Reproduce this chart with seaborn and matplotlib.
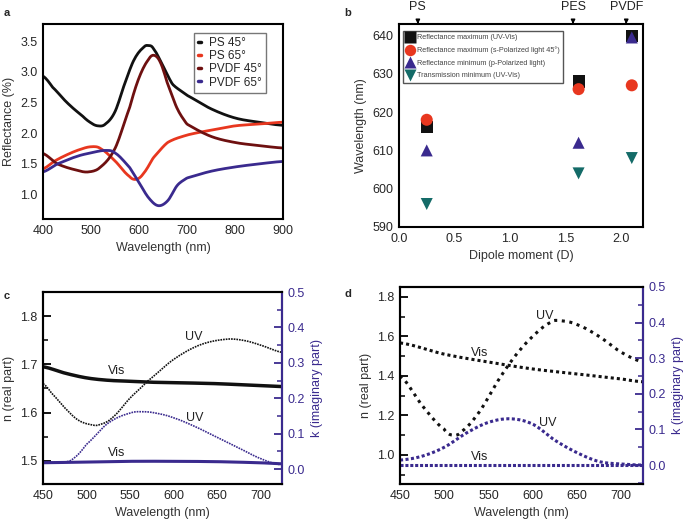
import numpy as np
import pandas as pd
import matplotlib
matplotlib.use('Agg')
import matplotlib.pyplot as plt
from matplotlib.ticker import MultipleLocator
import seaborn as sns

sns.set_theme(style='white')
plt.rcParams['font.family'] = ['Liberation Sans', 'DejaVu Sans']

# ---- panel a: reflectance spectra ----
wl_a = [400, 420, 450, 480, 500, 515, 530, 550, 570, 590, 610, 620, 630, 650, 670, 700, 750, 800, 850, 900]
ps45 = [2.93, 2.75, 2.5, 2.3, 2.17, 2.12, 2.15, 2.35, 2.8, 3.2, 3.4, 3.43, 3.38, 3.1, 2.8, 2.62, 2.4, 2.25, 2.18, 2.13]
wl_a2 = [400, 425, 450, 475, 500, 520, 550, 580, 595, 610, 630, 660, 700, 750, 800, 850, 900]
ps65 = [1.42, 1.55, 1.65, 1.73, 1.78, 1.75, 1.55, 1.3, 1.25, 1.35, 1.6, 1.85, 1.97, 2.05, 2.12, 2.15, 2.18]
wl_a3 = [400, 430, 470, 495, 520, 550, 580, 600, 620, 632, 645, 660, 680, 700, 750, 800, 850, 900]
pvdf45 = [1.67, 1.5, 1.4, 1.37, 1.45, 1.75, 2.4, 2.9, 3.2, 3.27, 3.15, 2.8, 2.4, 2.15, 1.95, 1.85, 1.8, 1.76]
wl_a4 = [400, 430, 470, 500, 530, 550, 580, 600, 620, 640, 660, 680, 700, 750, 800, 850, 900]
pvdf65 = [1.37, 1.5, 1.62, 1.68, 1.72, 1.68, 1.45, 1.2, 0.95, 0.82, 0.9, 1.15, 1.27, 1.38, 1.45, 1.5, 1.54]

# ---- panel b: peak positions vs dipole moment ----
dipole = [0.25, 1.62, 2.1]
polymers = ['PS', 'PES', 'PVDF']
polymer_arrow_x = [0.17, 1.57, 2.05]
refl_max_uvvis = [616, 628, 640]
refl_max_s45 = [618, 626, 627]
refl_min_p = [610, 612, 639.5]
trans_min_uvvis = [596, 604, 608]

# ---- panel c: optical constants (solid film) ----
wl_c = [450, 460, 475, 490, 505, 515, 530, 550, 570, 600, 630, 660, 680, 700, 725]
n_uv_c = [1.66, 1.64, 1.61, 1.585, 1.575, 1.575, 1.59, 1.63, 1.665, 1.71, 1.74, 1.752, 1.75, 1.74, 1.725]
wl_c2 = [450, 475, 500, 525, 550, 575, 600, 650, 700, 725]
n_vis_c = [1.695, 1.682, 1.672, 1.667, 1.665, 1.663, 1.662, 1.66, 1.656, 1.654]
wl_c3 = [450, 475, 485, 500, 525, 550, 565, 580, 600, 625, 650, 675, 700, 722]
k_uv_c = [0.02, 0.02, 0.03, 0.07, 0.13, 0.158, 0.162, 0.158, 0.145, 0.12, 0.09, 0.06, 0.03, 0.013]
wl_c4 = [450, 500, 550, 600, 650, 700, 725]
k_vis_c = [0.018, 0.02, 0.022, 0.022, 0.021, 0.018, 0.015]

# ---- panel d: optical constants (dotted) ----
wl_d = [450, 475, 500, 510, 520, 540, 560, 580, 600, 620, 630, 650, 675, 700, 725]
n_uv_d = [1.40, 1.25, 1.13, 1.10, 1.12, 1.22, 1.37, 1.5, 1.6, 1.67, 1.68, 1.66, 1.6, 1.52, 1.47]
wl_d2 = [450, 500, 550, 600, 650, 700, 725]
n_vis_d = [1.567, 1.51, 1.47, 1.435, 1.41, 1.385, 1.37]
wl_d3 = [450, 475, 500, 525, 550, 575, 600, 625, 650, 675, 700, 725]
k_uv_d = [0.014, 0.025, 0.05, 0.09, 0.12, 0.13, 0.115, 0.07, 0.035, 0.01, 0.003, 0.0]
wl_d4 = [450, 550, 650, 725]
k_vis_d = [0.0, 0.0, 0.0, 0.0]

BLACK = '#111111'
RED = '#e8371f'
DARKRED = '#6e1010'
PURPLE = '#3a2a8e'
TEAL = '#146b68'


def smooth(x, y, n=200):
    # Catmull-Rom through the read points so the curves are not jagged
    x = np.asarray(x, float)
    y = np.asarray(y, float)
    xs = np.linspace(x[0], x[-1], n)
    ys = []
    for xv in xs:
        i = np.clip(np.searchsorted(x, xv) - 1, 0, len(x) - 2)
        x0, x1 = x[i], x[i + 1]
        p0 = y[max(i - 1, 0)]
        p1, p2 = y[i], y[i + 1]
        p3 = y[min(i + 2, len(x) - 1)]
        t = (xv - x0) / (x1 - x0)
        ys.append(0.5 * ((2 * p1) + (-p0 + p2) * t + (2 * p0 - 5 * p1 + 4 * p2 - p3) * t ** 2
                         + (-p0 + 3 * p1 - 3 * p2 + p3) * t ** 3))
    return xs, np.array(ys)


def style_axes(ax, lw=1.5):
    for s in ax.spines.values():
        s.set_linewidth(lw)
        s.set_color('black')
    ax.tick_params(which='both', direction='in', color='black', labelsize=9, pad=4)
    ax.tick_params(which='major', length=6, width=1.3)
    ax.tick_params(which='minor', length=3.5, width=1.1)


fig = plt.figure(figsize=(6.85, 5.23), dpi=100)

# ---------------- a ----------------
ax_a = fig.add_axes([0.0628, 0.581, 0.350, 0.373])
for x, y, c, lab in [(wl_a, ps45, BLACK, 'PS 45°'), (wl_a2, ps65, RED, 'PS 65°'),
                     (wl_a3, pvdf45, DARKRED, 'PVDF 45°'), (wl_a4, pvdf65, PURPLE, 'PVDF 65°')]:
    xs, ys = smooth(x, y)
    sns.lineplot(x=xs, y=ys, color=c, lw=2.0, ax=ax_a, label=lab)
ax_a.set_xlim(400, 900)
ax_a.set_ylim(0.6, 3.78)
ax_a.xaxis.set_major_locator(MultipleLocator(100))
ax_a.xaxis.set_minor_locator(MultipleLocator(50))
ax_a.yaxis.set_minor_locator(MultipleLocator(0.25))
ax_a.set_yticks([1.0, 1.5, 2.0, 2.5, 3.0, 3.5])
ax_a.set_xlabel('Wavelength (nm)', fontsize=9, color='#333333')
ax_a.set_ylabel('Reflectance (%)', fontsize=9, color='#333333')
style_axes(ax_a)
leg = ax_a.legend(loc='upper right', fontsize=8.5, frameon=True, fancybox=False,
                  handlelength=0.25, handletextpad=0.7, borderpad=0.35, labelspacing=0.1,
                  edgecolor='#555555', bbox_to_anchor=(0.955, 0.985))
for h in leg.get_lines():
    h.set_linewidth(2.5)
leg.get_frame().set_linewidth(1.0)

# ---------------- b ----------------
ax_b = fig.add_axes([0.5825, 0.566, 0.356, 0.388])
df_b = pd.DataFrame({'D': dipole * 4,
                     'wl': refl_max_uvvis + refl_max_s45 + refl_min_p + trans_min_uvvis,
                     'kind': ['Reflectance maximum (UV-Vis)'] * 3
                             + ['Reflectance maximum (s-Polarized light 45°)'] * 3
                             + ['Reflectance minimum (p-Polarized light)'] * 3
                             + ['Transmission minimum (UV-Vis)'] * 3})
sns.scatterplot(data=df_b, x='D', y='wl', hue='kind', style='kind',
                palette=[BLACK, RED, PURPLE, TEAL], markers=['s', 'o', '^', 'v'],
                s=75, edgecolor='none', ax=ax_b, zorder=5)
ax_b.set_xlim(0, 2.2)
ax_b.set_ylim(590, 643)
ax_b.xaxis.set_major_locator(MultipleLocator(0.5))
ax_b.xaxis.set_minor_locator(MultipleLocator(0.25))
ax_b.yaxis.set_major_locator(MultipleLocator(10))
ax_b.yaxis.set_minor_locator(MultipleLocator(5))
ax_b.set_xlabel('Dipole moment (D)', fontsize=9, color='#333333')
ax_b.set_ylabel('Wavelength (nm)', fontsize=9, color='#333333')
style_axes(ax_b)
leg_b = ax_b.legend(loc='upper left', fontsize=5.2, frameon=True, fancybox=False, framealpha=1,
                    markerscale=0.95, handletextpad=0.5, borderpad=0.5, labelspacing=0.75,
                    handlelength=1.0, edgecolor='#555555', bbox_to_anchor=(0.0, 0.985))
leg_b.get_frame().set_linewidth(1.0)
leg_b.set_zorder(3)
for t in leg_b.get_texts():
    t.set_color('#444444')
for name, xa in zip(polymers, polymer_arrow_x):
    ax_b.annotate(name, xy=(xa, 1.0), xycoords=('data', 'axes fraction'),
                  xytext=(xa, 1.085), textcoords=('data', 'axes fraction'),
                  ha='center', va='center', fontsize=9, color='#222222',
                  arrowprops=dict(arrowstyle='-|>', color='black', lw=1.0,
                                  mutation_scale=6, shrinkA=4, shrinkB=0))


def nk_panel(rect, ylim, ymaj, ymin_, n_curves, k_curves, labels, kylim):
    ax = fig.add_axes(rect)
    ax2 = ax.twinx()
    for x, y, lw, ls in n_curves:
        xs, ys = smooth(x, y)
        sns.lineplot(x=xs, y=ys, color=BLACK, lw=lw, ls=ls, ax=ax)
    for x, y, lw, ls in k_curves:
        xs, ys = smooth(x, y)
        sns.lineplot(x=xs, y=ys, color=PURPLE, lw=lw, ls=ls, ax=ax2)
    ax.set_xlim(450, 725)
    ax.set_ylim(*ylim)
    ax2.set_ylim(*kylim)
    ax.xaxis.set_major_locator(MultipleLocator(50))
    ax.xaxis.set_minor_locator(MultipleLocator(25))
    ax.yaxis.set_major_locator(MultipleLocator(ymaj))
    ax.yaxis.set_minor_locator(MultipleLocator(ymin_))
    ax2.yaxis.set_major_locator(MultipleLocator(0.1))
    ax2.yaxis.set_minor_locator(MultipleLocator(0.05))
    ax.set_xlabel('Wavelength (nm)', fontsize=9, color='#333333')
    ax.set_ylabel('n (real part)', fontsize=9, color='#333333')
    ax2.set_ylabel('k (imaginary part)', fontsize=9, color=PURPLE)
    style_axes(ax)
    style_axes(ax2)
    ax2.spines['right'].set_color(PURPLE)
    ax2.tick_params(axis='y', which='both', color=PURPLE, labelcolor=PURPLE)
    for txt, x, y in labels:
        ax.text(x, y, txt, fontsize=9, ha='center', va='center', color='#222222')
    return ax, ax2


nk_panel([0.0628, 0.0746, 0.349, 0.367], (1.452, 1.85), 0.1, 0.05,
         [(wl_c2, n_vis_c, 2.5, '-'), (wl_c, n_uv_c, 1.2, (0, (1, 0.6)))],
         [(wl_c4, k_vis_c, 2.2, '-'), (wl_c3, k_uv_c, 1.2, (0, (1, 0.6)))],
         [('UV', 623, 1.757), ('Vis', 535, 1.686), ('UV', 625, 1.589), ('Vis', 535, 1.517)],
         (-0.042, 0.5))

nk_panel([0.584, 0.0746, 0.355, 0.3767], (0.853, 1.85), 0.2, 0.1,
         [(wl_d2, n_vis_d, 2.2, (0, (1, 1))), (wl_d, n_uv_d, 2.2, (0, (1, 1.5)))],
         [(wl_d4, k_vis_d, 2.2, (0, (1, 0.6))), (wl_d3, k_uv_d, 2.2, (0, (1, 0.8)))],
         [('UV', 614, 1.704), ('Vis', 540, 1.516), ('UV', 617, 1.16), ('Vis', 540, 0.99)],
         (-0.053, 0.5))

for lab, x, y in [('a', 0.006, 0.985), ('b', 0.503, 0.985), ('c', 0.006, 0.443), ('d', 0.503, 0.448)]:
    fig.text(x, y, lab, fontsize=8, fontweight='bold', ha='left', va='top')

fig.savefig('out.png', dpi=100)
